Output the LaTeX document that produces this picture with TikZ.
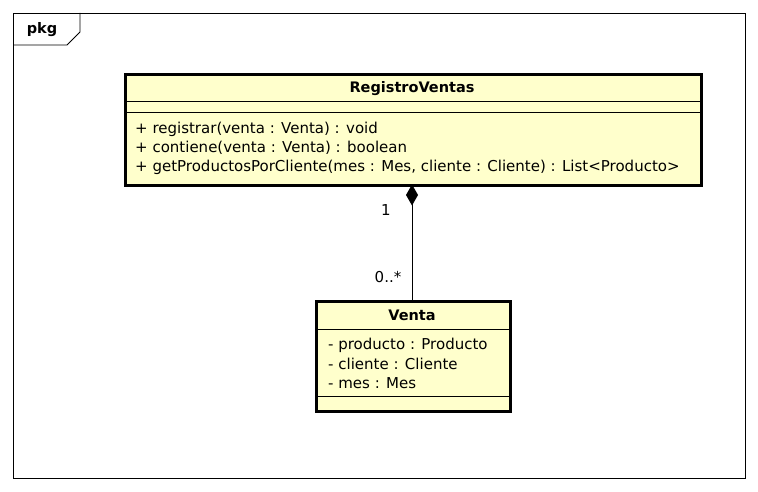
\documentclass[tikz,border=0pt]{standalone}
\usepackage{fontspec}
\setmainfont{DejaVu Sans}
\usetikzlibrary{arrows.meta}
\definecolor{umlfill}{HTML}{FFFFCC}
\begin{document}
\begin{tikzpicture}[x=1pt,y=-1pt,
  classbox/.style={draw=black, line width=3pt, fill=umlfill, inner sep=0pt, anchor=north west},
  sep/.style={line width=1pt},
  txt/.style={anchor=west, inner sep=0pt, font=\fontsize{15}{17}\selectfont},
  cname/.style={inner sep=0pt, font=\fontsize{14.5}{17}\selectfont\bfseries},
  mult/.style={inner sep=0pt, font=\fontsize{15}{17}\selectfont}]
\useasboundingbox (0,0) rectangle (758,492);
% frame
\draw[line width=0.9pt] (13,13) rectangle (745,478);
\draw[line width=0.9pt] (13,45) -- (67,45) -- (80,32) -- (80,13);
\node[inner sep=0pt, font=\fontsize{14.5}{17}\selectfont\bfseries] (pkg) at (42,30) {pkg};
% RegistroVentas
\node[classbox, minimum width=576pt, minimum height=111pt] (rv) at (124,73) {};
\draw[sep] (124,102) -- (700,102);
\draw[sep] (124,113) -- (700,113);
\node[cname] (rvname) at (412,89) {RegistroVentas};
\node[txt] (op1) at (135,129) {+ registrar(venta : Venta) : void};
\node[txt] (op2) at (135,148) {+ contiene(venta : Venta) : boolean};
\node[txt] (op3) at (135,167) {+ getProductosPorCliente(mes : Mes, cliente : Cliente) : List<Producto>};
% Venta
\node[classbox, minimum width=194pt, minimum height=110pt] (venta) at (315,300) {};
\draw[sep] (315,329) -- (509,329);
\draw[sep] (315,396) -- (509,396);
\node[cname] (vname) at (412,315) {Venta};
\node[txt] (a1) at (328,345) {- producto : Producto};
\node[txt] (a2) at (328,364) {- cliente : Cliente};
\node[txt] (a3) at (328,383) {- mes : Mes};
% composition
\coordinate (rvb) at (412,184.5);
\draw[line width=1pt, {Diamond[length=21pt,width=12pt]}-] (rvb) -- (rvb |- venta.north);
\node[mult] (m1) at (386,210) {1};
\node[mult] (m2) at (388,277) {0..*};
\end{tikzpicture}
\end{document}
